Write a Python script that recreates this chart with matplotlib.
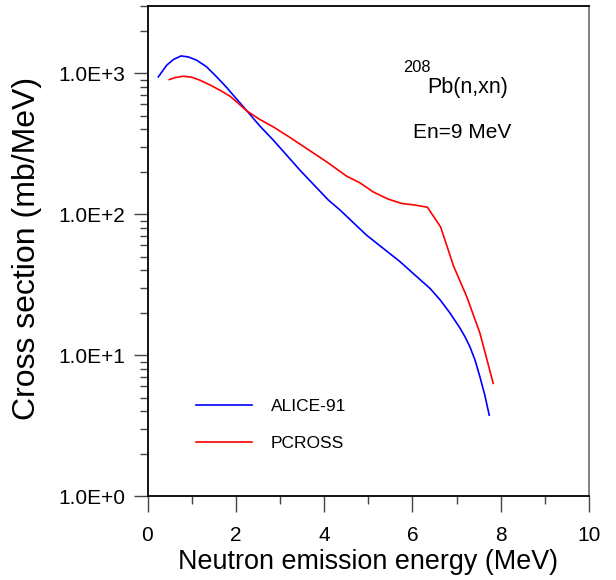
#!/usr/bin/env python3

import matplotlib
matplotlib.use('Agg')
import matplotlib.pyplot as plt
from matplotlib.ticker import FixedLocator, NullFormatter, LogLocator

# ALICE-91 spectrum (MeV, mb/MeV)
alice_e = [0.245, 0.435, 0.585, 0.759, 0.925, 1.114, 1.341, 1.567, 1.794, 1.944,
           2.26, 2.548, 2.85, 3.153, 3.454, 3.756, 4.096, 4.36, 4.96, 5.72,
           6.17, 6.40, 6.63, 6.85, 7.08, 7.19, 7.30, 7.42, 7.53, 7.64, 7.74]
alice_xs = [942, 1140, 1250, 1327, 1305, 1237, 1109, 942, 792, 698,
            537, 421, 335, 262, 205, 163, 126, 107, 71, 46,
            34.4, 29.7, 24.6, 19.9, 15.5, 13.5, 11.5, 9.2, 7.0, 5.2, 3.75]

# PCROSS spectrum (MeV, mb/MeV)
pcross_e = [0.494, 0.623, 0.811, 1.001, 1.189, 1.416, 1.642, 1.869, 2.02, 2.26,
            2.548, 2.85, 3.228, 3.606, 4.059, 4.51, 4.81, 5.11, 5.27, 5.45,
            5.76, 6.06, 6.34, 6.64, 6.93, 7.23, 7.53, 7.83]
pcross_xs = [902, 931, 952, 937, 892, 826, 757, 687, 626, 537,
             469, 416, 350, 292, 235, 186, 167, 144, 136, 128,
             119, 116, 112, 81, 43, 26, 14.3, 6.3]

x_ticks = [0, 2, 4, 6, 8, 10]
y_ticks = [1, 10, 100, 1000]
y_tick_labels = ['1.0E+0', '1.0E+1', '1.0E+2', '1.0E+3']

plt.rcParams['font.family'] = ['Liberation Sans', 'DejaVu Sans']

fig = plt.figure(figsize=(6.16, 5.80), dpi=100)
ax = fig.add_axes([147.5 / 616, 84 / 580, 441.5 / 616, 490 / 580])

ax.plot(alice_e, alice_xs, color='#0000ff', lw=1.2, label='ALICE-91')
ax.plot(pcross_e, pcross_xs, color='#ff0000', lw=1.2, label='PCROSS')

ax.set_yscale('log')
ax.set_xlim(0, 10)
ax.set_ylim(1, 3000)

ax.set_xticks(x_ticks)
ax.set_xticklabels([str(t) for t in x_ticks])
ax.xaxis.set_minor_locator(FixedLocator([1, 3, 5, 7, 9]))
ax.set_yticks(y_ticks)
ax.set_yticklabels(y_tick_labels)
ax.yaxis.set_minor_locator(LogLocator(base=10, subs=range(2, 10)))
ax.yaxis.set_minor_formatter(NullFormatter())

ax.tick_params(which='both', direction='out', width=1.0, top=False, right=False,
               colors='#444444', labelcolor='black', labelsize=15)
ax.tick_params(axis='x', which='major', length=11.5, pad=10)
ax.tick_params(axis='y', which='major', length=10, pad=6)
ax.tick_params(which='minor', length=5.5)

for side in ['left', 'bottom', 'top']:
    ax.spines[side].set_linewidth(1.3)
    ax.spines[side].set_color('black')
ax.spines['right'].set_color('#777777')
ax.spines['right'].set_linewidth(1.3)

ax.set_xlabel('Neutron emission energy (MeV)', fontsize=19.4, labelpad=3)
ax.set_ylabel('Cross section (mb/MeV)', fontsize=23)
ax.yaxis.set_label_coords(-0.238, 0.505)

ax.text(0.578, 0.866, '208', transform=ax.transAxes, fontsize=11.8)
ax.text(0.634, 0.823, 'Pb(n,xn)', transform=ax.transAxes, fontsize=15.5)
ax.text(0.602, 0.731, 'En=9 MeV', transform=ax.transAxes, fontsize=15)

ax.legend(loc='upper left', bbox_to_anchor=(0.11, 0.198), frameon=False,
          fontsize=12.5, handlelength=3.2, handletextpad=1.1, labelspacing=1.25,
          borderpad=0, borderaxespad=0)

fig.savefig('out.png', dpi=100)
